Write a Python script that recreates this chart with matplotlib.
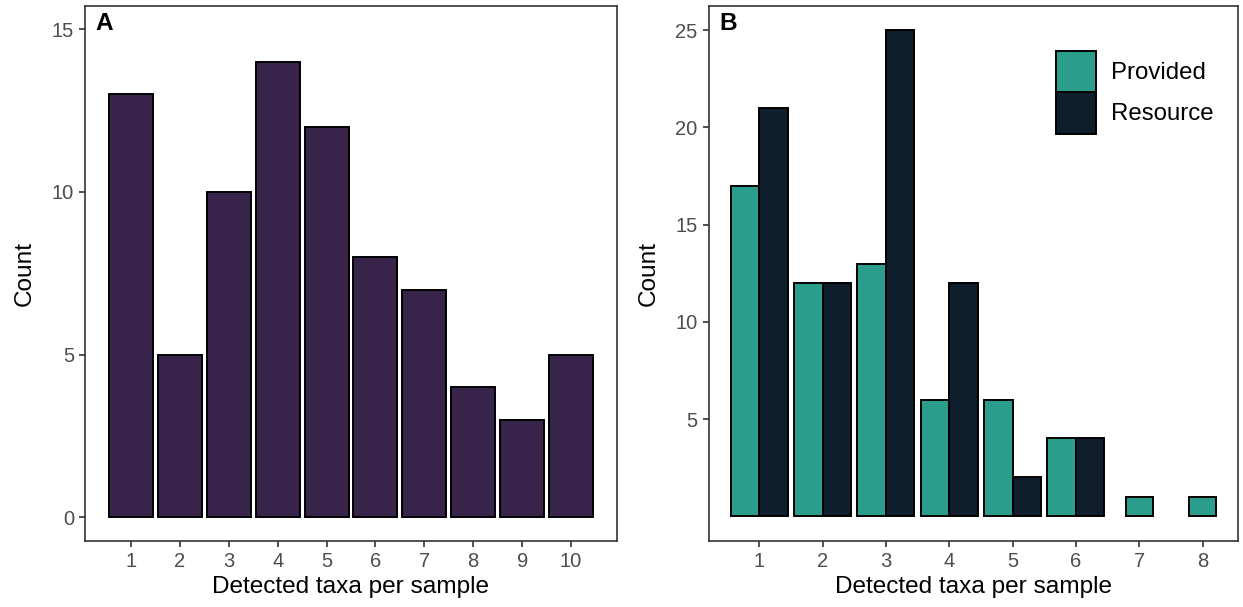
import matplotlib
matplotlib.use("Agg")
import matplotlib.pyplot as plt
from matplotlib.patches import Patch
import numpy as np

plt.rcParams['font.family'] = ['Liberation Sans', 'DejaVu Sans']

# Panel A data
taxa_a = [1, 2, 3, 4, 5, 6, 7, 8, 9, 10]
count_a = [13, 5, 10, 14, 12, 8, 7, 4, 3, 5]

# Panel B data
taxa_b = [1, 2, 3, 4, 5, 6, 7, 8]
provided = [17, 12, 13, 6, 6, 4, 1, 1]
resource = [21, 12, 25, 12, 2, 4, 0, 0]
groups = ["Provided", "Resource"]

col_a = "#38244A"
col_prov = "#2A9D8C"
col_res = "#0F1E2C"

W, H = 1243, 607
fig = plt.figure(figsize=(W / 100, H / 100), dpi=100)

def frac(l, r, t, b):
    return [l / W, 1 - b / H, (r - l) / W, (b - t) / H]

axA = fig.add_axes(frac(85, 617, 6, 540.5))
axB = fig.add_axes(frac(708.5, 1238, 6, 540.5))

tick_fs = 14.5
lab_fs = 17.6
leg_fs = 17.3
edge_lw = 1.4

# Panel A
axA.bar(taxa_a, count_a, width=0.9, color=col_a, edgecolor="black", linewidth=edge_lw)
axA.set_xlim(0.06, 10.94)
axA.set_ylim(-0.72, 15.72)
axA.set_xticks(taxa_a)
axA.set_yticks([0, 5, 10, 15])

# Panel B
w = 0.45
for x, p, r in zip(taxa_b, provided, resource):
    if p > 0 and r > 0:
        axB.bar(x - w / 2, p, width=w, color=col_prov, edgecolor="black", linewidth=edge_lw)
        axB.bar(x + w / 2, r, width=w, color=col_res, edgecolor="black", linewidth=edge_lw)
    elif p > 0:
        axB.bar(x, p, width=w * 0.95, color=col_prov, edgecolor="black", linewidth=edge_lw)
    elif r > 0:
        axB.bar(x, r, width=w * 0.95, color=col_res, edgecolor="black", linewidth=edge_lw)
axB.set_xlim(0.2, 8.56)
axB.set_ylim(-1.25, 26.25)
axB.set_xticks(taxa_b)
axB.set_yticks([5, 10, 15, 20, 25])

handles = [Patch(facecolor=col_prov, edgecolor="black", linewidth=edge_lw),
           Patch(facecolor=col_res, edgecolor="black", linewidth=edge_lw)]
fs_px = leg_fs * 100 / 72
axB.legend(handles, groups, loc="upper left", bbox_to_anchor=((1056 - 708.5) / 529.5, (540.5 - 51) / 534.5),
           frameon=False, fontsize=leg_fs, borderpad=0, borderaxespad=0,
           handlelength=40 / fs_px, handleheight=(41 / fs_px) * (41 / 33) * 1.07, labelspacing=0.0,
           handletextpad=15 / fs_px)

for ax, letter in ((axA, "A"), (axB, "B")):
    for s in ax.spines.values():
        s.set_color("#333333")
        s.set_linewidth(1.2)
    ax.tick_params(axis="both", length=4, width=1.2, color="#333333",
                   labelcolor="#4D4D4D", labelsize=tick_fs, pad=4)
    ax.set_xlabel("Detected taxa per sample", fontsize=lab_fs, color="black")
    ax.set_ylabel("Count", fontsize=lab_fs, color="black")
    ax.xaxis.set_label_coords(0.5, -0.066)
    ax.yaxis.set_label_coords(-0.092, 0.5)
    ax.text(0.02, 0.955, letter, transform=ax.transAxes, fontsize=lab_fs,
            fontweight="bold", va="baseline", ha="left")

fig.savefig("out.png", dpi=100, facecolor="white")
